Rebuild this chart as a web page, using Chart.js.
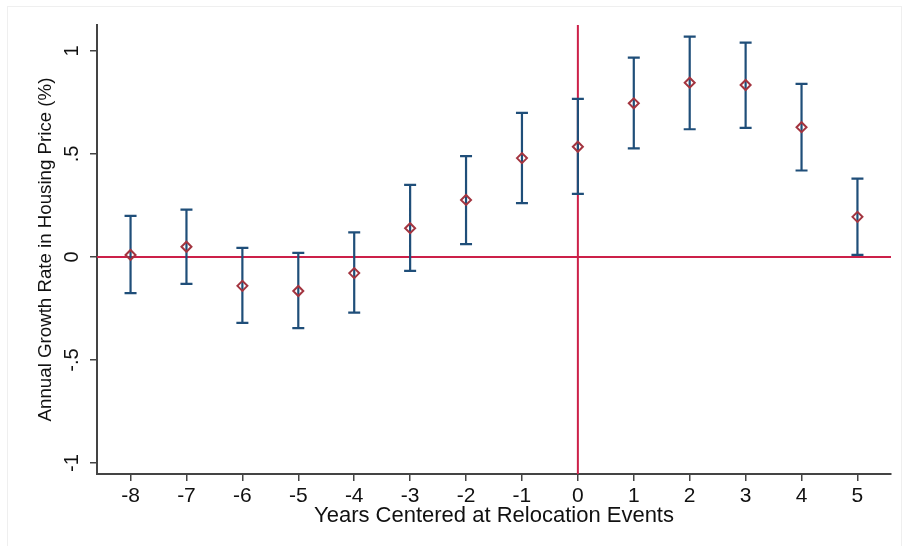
<!DOCTYPE html>
<html>
<head>
<meta charset="utf-8">
<script src="https://cdn.jsdelivr.net/npm/chart.js@4.4.1/dist/chart.umd.min.js"></script>
<style>
    html, body { margin: 0; padding: 0; background: #ffffff; }
    #wrap { width: 902px; height: 546px; position: relative; }
</style>
</head>
<body>
<div id="wrap"><canvas id="Chart1"></canvas></div>
<script>
// ---- data
const years = [-8, -7, -6, -5, -4, -3, -2, -1, 0, 1, 2, 3, 4, 5];
const estimate = [0.01, 0.05, -0.14, -0.165, -0.078, 0.14, 0.277, 0.48, 0.535, 0.746, 0.846, 0.835, 0.63, 0.195];
const ciLow = [-0.175, -0.13, -0.32, -0.345, -0.27, -0.067, 0.063, 0.262, 0.306, 0.527, 0.62, 0.627, 0.42, 0.01];
const ciHigh = [0.20, 0.23, 0.044, 0.02, 0.12, 0.35, 0.49, 0.70, 0.767, 0.968, 1.07, 1.04, 0.84, 0.38];
const yTicks = [-1, -0.5, 0, 0.5, 1];
const yTickLabels = ["-1", "-.5", "0", ".5", "1"];
const refX = 0;
const refY = 0;

const FONT = "'Liberation Sans', Arial, sans-serif";
const BLUE = "#1f4e79";
const MAROON = "#a3343f";
const RED = "#cc2049";

// =========== error bars, reference lines, rotated y labels
const stataPlugin = {
    id: "stata",
    beforeDatasetsDraw(chart) {
        const c = chart.ctx;
        const xs = chart.scales.x;
        const ys = chart.scales.y;
        const area = chart.chartArea;
        c.save();
        // reference lines
        c.strokeStyle = RED;
        c.lineWidth = 2;
        c.beginPath();
        const py = ys.getPixelForValue(refY);
        c.moveTo(area.left, py);
        c.lineTo(area.right, py);
        const px = xs.getPixelForValue(refX);
        c.moveTo(px, area.top);
        c.lineTo(px, area.bottom);
        c.stroke();
        // error bars
        c.strokeStyle = BLUE;
        c.lineWidth = 2.2;
        c.beginPath();
        years.forEach((yr, i) => {
            const x = xs.getPixelForValue(yr);
            const lo = ys.getPixelForValue(ciLow[i]);
            const hi = ys.getPixelForValue(ciHigh[i]);
            c.moveTo(x, lo);
            c.lineTo(x, hi);
            c.moveTo(x - 6, lo);
            c.lineTo(x + 6, lo);
            c.moveTo(x - 6, hi);
            c.lineTo(x + 6, hi);
        });
        c.stroke();
        c.restore();
    },
    afterDraw(chart) {
        const c = chart.ctx;
        const ys = chart.scales.y;
        c.save();
        c.fillStyle = "#111";
        c.font = "20px " + FONT;
        c.textAlign = "center";
        c.textBaseline = "middle";
        yTicks.forEach((v, i) => {
            c.save();
            c.translate(72, ys.getPixelForValue(v));
            c.rotate(-Math.PI / 2);
            c.fillText(yTickLabels[i], 0, 0);
            c.restore();
        });
        // faint frame
        c.strokeStyle = "#efefef";
        c.lineWidth = 1;
        c.strokeRect(7.5, 6.5, 894, 540);
        c.restore();
    },
};

const ctx1 = document.getElementById("Chart1").getContext("2d");
const chart1 = new Chart(ctx1, {
    type: "scatter",
    data: {
        datasets: [
            {
                label: "",
                data: years.map((yr, i) => ({ x: yr, y: estimate[i] })),
                pointStyle: "rectRot",
                pointRadius: 5,
                pointBorderWidth: 2,
                borderColor: MAROON,
                backgroundColor: "transparent",
            },
        ],
    },
    plugins: [stataPlugin],
    options: {
        responsive: true,
        maintainAspectRatio: false,
        animation: false,
        layout: {
            padding: { top: 25, right: 11, bottom: 0, left: 0 },
        },
        plugins: {
            legend: { display: false },
            tooltip: { enabled: false },
        },
        scales: {
            x: {
                type: "linear",
                min: -8.6,
                max: 5.6,
                afterBuildTicks: (scale) => {
                    scale.ticks = years.map((v) => ({ value: v }));
                },
                afterFit: (scale) => {
                    scale.height = 72;
                },
                grid: {
                    drawOnChartArea: false,
                    drawTicks: true,
                    tickLength: 7,
                    color: "#444",
                    lineWidth: 1.5,
                },
                border: { display: true, color: "#444", width: 2 },
                ticks: {
                    color: "#111",
                    font: { family: FONT, size: 21 },
                    padding: 3,
                    maxRotation: 0,
                    autoSkip: false,
                },
                title: {
                    display: true,
                    text: "Years Centered at Relocation Events",
                    color: "#111",
                    font: { family: FONT, size: 22 },
                    padding: { top: 0, bottom: 17 },
                },
            },
            y: {
                type: "linear",
                min: -1.053,
                max: 1.126,
                afterBuildTicks: (scale) => {
                    scale.ticks = yTicks.map((v) => ({ value: v }));
                },
                afterFit: (scale) => {
                    scale.width = 97;
                },
                grid: {
                    drawOnChartArea: false,
                    drawTicks: true,
                    tickLength: 7,
                    color: "#444",
                    lineWidth: 1.5,
                },
                border: { display: true, color: "#444", width: 2 },
                ticks: {
                    display: false,
                },
                title: {
                    display: true,
                    text: "Annual Growth Rate in Housing Price (%)",
                    color: "#111",
                    font: { family: FONT, size: 18.7 },
                    padding: { top: 35, bottom: 0 },
                },
            },
        },
    },
});
</script>
</body>
</html>
